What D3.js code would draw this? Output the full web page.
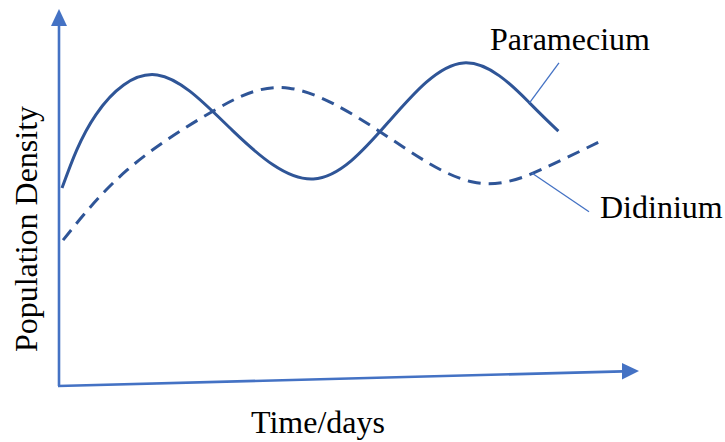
<!DOCTYPE html>
<html>
<head>
<meta charset="utf-8">
<script src="https://cdn.jsdelivr.net/npm/d3@7"></script>
<style>
  html, body { margin: 0; padding: 0; background: #fff; }
  svg { display: block; }
  text { font-family: "Liberation Serif", "Times New Roman", serif; fill: #000; }
</style>
</head>
<body>
<svg id="chart" width="725" height="442"></svg>
<script>
// ---- data ----
const paramDays = [0.26, 3.2, 8.5, 15.0, 22.0, 28.5, 35.0, 40.7, 43.2];
const paramDensity = [52.5, 72.0, 82.5, 67.8, 54.9, 70.0, 85.7, 75.1, 67.6];
const didiDays = [0.35, 5.9, 13.2, 19.9, 27.8, 35.8, 42.2, 46.7];
const didiDensity = [38.7, 57.3, 72.7, 79.0, 67.4, 54.1, 58.1, 64.7];
const seriesNames = ["Paramecium", "Didinium"];
// label leader lines: [startDay, startDensity, endDay, endDensity]
const paramLeader = [40.7, 75.1, 43.25, 85.7];
const didiLeader = [40.9, 56.5, 45.85, 46.2];
const xTitle = "Time/days";
const yTitle = "Population Density";

// ---- scales ----
const svg = d3.select("#chart");
const x = d3.scaleLinear().domain([0, 50]).range([59, 637]);
const y = d3.scaleLinear().domain([0, 100]).range([386, 9]);

const axisColor = "#4472C4";
const curveColor = "#2F5597";

// y axis
svg.append("line")
  .attr("x1", x(0)).attr("y1", y(0))
  .attr("x2", x(0)).attr("y2", y(0) - 360)
  .attr("stroke", axisColor).attr("stroke-width", 2.6);
svg.append("path")
  .attr("d", `M${x(0)},${y(100)} L${x(0) - 8},${y(100) + 17} L${x(0) + 8},${y(100) + 17} Z`)
  .attr("fill", axisColor);
// x axis (slightly tilted in the original)
const xEnd = [x(50) - 14, y(0) - 14.6];
svg.append("line")
  .attr("x1", x(0) - 1).attr("y1", y(0))
  .attr("x2", xEnd[0]).attr("y2", xEnd[1])
  .attr("stroke", axisColor).attr("stroke-width", 2.6);
svg.append("path")
  .attr("d", `M${x(50) + 2},${y(0) - 15} L${x(50) - 15},${y(0) - 23} L${x(50) - 15},${y(0) - 6.5} Z`)
  .attr("fill", axisColor);

// curves
const line = d3.line()
  .x(d => x(d[0])).y(d => y(d[1]))
  .curve(d3.curveNatural);

const paramData = paramDays.map((d, i) => [d, paramDensity[i]]);
const didiData = didiDays.map((d, i) => [d, didiDensity[i]]);

svg.append("path")
  .attr("d", line(didiData))
  .attr("fill", "none")
  .attr("stroke", curveColor)
  .attr("stroke-width", 3)
  .attr("stroke-dasharray", "13,8");

svg.append("path")
  .attr("d", line(paramData))
  .attr("fill", "none")
  .attr("stroke", curveColor)
  .attr("stroke-width", 3);

// leader lines
[paramLeader, didiLeader].forEach(l => {
  svg.append("line")
    .attr("x1", x(l[0])).attr("y1", y(l[1]))
    .attr("x2", x(l[2])).attr("y2", y(l[3]))
    .attr("stroke", axisColor).attr("stroke-width", 1.3);
});

// labels
svg.append("text").attr("x", 490).attr("y", 50)
  .attr("font-size", 32).text(seriesNames[0]);
svg.append("text").attr("x", 600).attr("y", 218)
  .attr("font-size", 32).text(seriesNames[1]);

// axis titles
svg.append("text").attr("x", 318).attr("y", 433)
  .attr("text-anchor", "middle").attr("font-size", 32).text(xTitle);
svg.append("text")
  .attr("transform", "translate(37,229) rotate(-90)")
  .attr("text-anchor", "middle").attr("font-size", 32).text(yTitle);
</script>
</body>
</html>
